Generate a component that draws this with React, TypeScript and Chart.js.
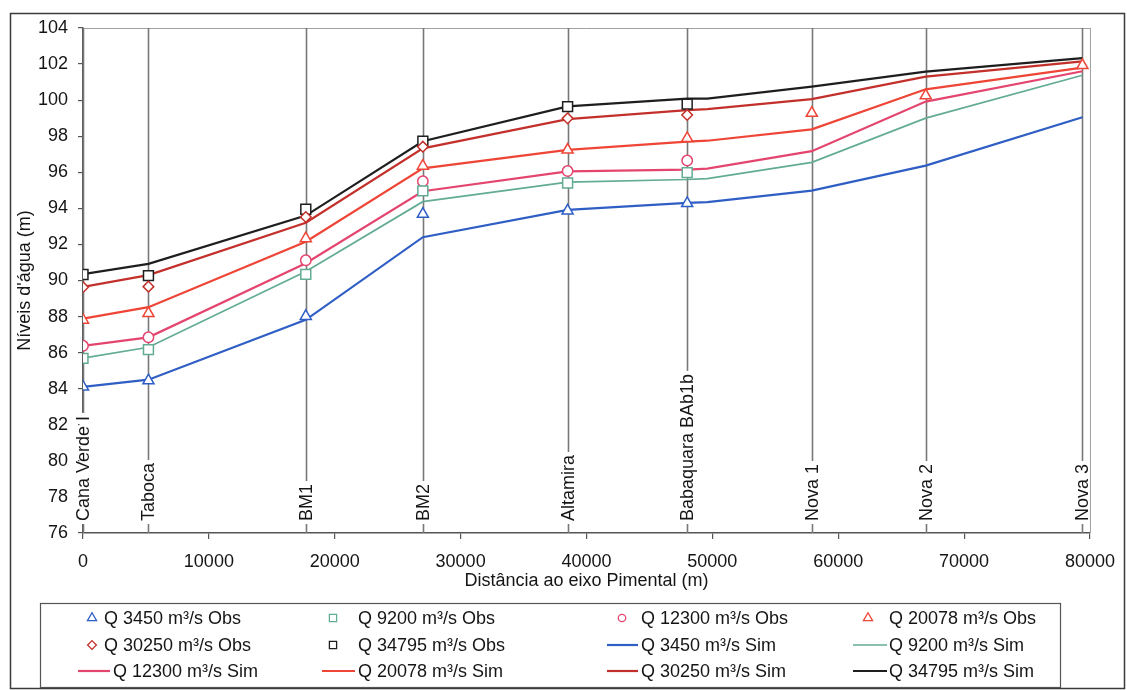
import React, { useEffect, useRef } from 'react';
import { Chart, registerables } from 'chart.js';

Chart.register(...registerables);

// Gauging stations along the river (distance from the Pimental axis, m)
const stationNames = ['Cana Verde I', 'Taboca', 'BM1', 'BM2', 'Altamira', 'Babaquara BAb1b', 'Nova 1', 'Nova 2', 'Nova 3'];
const stationDist = [0, 5200, 17700, 27000, 38500, 48000, 57900, 66950, 79400];

// Model cross-sections used for the simulated profiles
const simDist = [0, 5200, 17700, 27000, 38500, 48000, 49600, 57900, 66950, 79400];

const flows = ['3450', '9200', '12300', '20078', '30250', '34795'];

// Observed water levels (m), one value per station, in station order
const obs3450 = [84.1, 84.45, 88.02, 93.68, 93.87, 94.28];
const obs9200 = [85.68, 86.17, 90.34, 94.97, 95.41, 95.98];
const obs12300 = [86.38, 86.85, 91.12, 95.5, 96.07, 96.65];
const obs20078 = [87.81, 88.18, 92.33, 96.35, 97.24, 97.88, 99.28, 100.25, 101.93];
const obs30250 = [89.63, 89.66, 93.52, 97.42, 98.99, 99.18];
const obs34795 = [90.33, 90.27, 93.95, 97.72, 99.64, 99.78];

// Simulated water levels (m) at each model cross-section
const sim3450 = [84.1, 84.5, 87.82, 92.4, 93.92, 94.3, 94.35, 94.98, 96.37, 99.05];
const sim9200 = [85.7, 86.3, 90.5, 94.37, 95.45, 95.6, 95.65, 96.55, 99.0, 101.38];
const sim12300 = [86.37, 86.85, 90.96, 94.95, 96.05, 96.15, 96.2, 97.17, 99.92, 101.6];
const sim20078 = [87.88, 88.52, 92.15, 96.22, 97.24, 97.7, 97.75, 98.38, 100.6, 101.8];
const sim30250 = [89.65, 90.3, 93.2, 97.33, 98.95, 99.45, 99.5, 100.06, 101.3, 102.15];
const sim34795 = [90.35, 90.92, 93.6, 97.72, 99.65, 100.08, 100.08, 100.75, 101.58, 102.33];

const obsSeries = [obs3450, obs9200, obs12300, obs20078, obs30250, obs34795];
const simSeries = [sim3450, sim9200, sim12300, sim20078, sim30250, sim34795];

const seriesColors = ['#2f5ec4', '#62ab94', '#e4456f', '#ee4536', '#c3302b', '#1e1e1e'];
const obsStyles = ['triangle', 'rect', 'circle', 'triangle', 'rectRot', 'rect'];
const obsRadius = [6.4, 7, 5.2, 6.4, 5.3, 7];
const simWidths = [2.2, 1.7, 2.2, 2.2, 2.2, 2.2];

const FONT = '"Liberation Sans", Arial, Helvetica, sans-serif';
const TEXT = '#151515';

// Legend grid: four columns, three rows
const legendBox = { x: 40, y: 603, w: 1020, h: 84 };
const legendRowY = [618, 645, 671];
const legendCols = [
  { line0: 78, line1: 110, simText: 113, mark: 92, obsText: 104 },
  { line0: 322, line1: 355, simText: 358, mark: 333, obsText: 358 },
  { line0: 607, line1: 638, simText: 641, mark: 622, obsText: 641 },
  { line0: 853, line1: 887, simText: 889, mark: 868, obsText: 889 },
];

function drawMarker(ctx: CanvasRenderingContext2D, style: string, x: number, y: number, color: string) {
  ctx.save();
  ctx.strokeStyle = color;
  ctx.fillStyle = '#fff';
  ctx.lineWidth = 1.3;
  ctx.beginPath();
  if (style === 'triangle') {
    const r = 5.3;
    ctx.moveTo(x, y - r);
    ctx.lineTo(x + r * 0.866, y + r * 0.5);
    ctx.lineTo(x - r * 0.866, y + r * 0.5);
    ctx.closePath();
  } else if (style === 'rect') {
    ctx.rect(x - 3.6, y - 3.6, 7.2, 7.2);
  } else if (style === 'circle') {
    ctx.arc(x, y, 3.7, 0, Math.PI * 2);
  } else {
    const r = 4.4;
    ctx.moveTo(x, y - r);
    ctx.lineTo(x + r, y);
    ctx.lineTo(x, y + r);
    ctx.lineTo(x - r, y);
    ctx.closePath();
  }
  ctx.fill();
  ctx.stroke();
  ctx.restore();
}

const stationPlugin = {
  id: 'stations',
  beforeDatasetsDraw(chart: any) {
    const { ctx, chartArea, scales } = chart;
    const xs = scales.x;
    ctx.save();
    // upper and right edges of the plot area
    ctx.strokeStyle = '#a0a0a0';
    ctx.lineWidth = 1;
    ctx.beginPath();
    ctx.moveTo(chartArea.left, chartArea.top + 0.5);
    ctx.lineTo(chartArea.right, chartArea.top + 0.5);
    ctx.moveTo(chartArea.right + 0.5, chartArea.top);
    ctx.lineTo(chartArea.right + 0.5, chartArea.bottom);
    ctx.stroke();

    ctx.font = `18px ${FONT}`;
    stationDist.forEach((d, i) => {
      const px = Math.round(xs.getPixelForValue(d)) + 0.5;
      ctx.strokeStyle = '#787878';
      ctx.lineWidth = 1.6;
      ctx.beginPath();
      ctx.moveTo(px, chartArea.top);
      ctx.lineTo(px, chartArea.bottom);
      ctx.stroke();

      const label = stationNames[i];
      const w = ctx.measureText(label).width;
      ctx.save();
      ctx.translate(px, chartArea.bottom - 12);
      ctx.rotate(-Math.PI / 2);
      ctx.fillStyle = '#fff';
      ctx.fillRect(-3, -4, w + 6, 8);
      ctx.fillStyle = TEXT;
      ctx.textAlign = 'left';
      ctx.textBaseline = 'middle';
      ctx.fillText(label, 0, 1);
      ctx.restore();
    });
    ctx.restore();
  },
};

const legendPlugin = {
  id: 'gridLegend',
  afterDraw(chart: any) {
    const { ctx } = chart;
    ctx.save();
    // outer frame of the figure
    ctx.strokeStyle = '#3a3a3a';
    ctx.lineWidth = 1.5;
    ctx.strokeRect(10.5, 13.5, 1114, 675);

    ctx.strokeStyle = '#555';
    ctx.lineWidth = 1.2;
    ctx.strokeRect(legendBox.x + 0.5, legendBox.y + 0.5, legendBox.w, legendBox.h);

    ctx.font = `18px ${FONT}`;
    ctx.textBaseline = 'middle';
    ctx.textAlign = 'left';
    chart.data.datasets.forEach((ds: any, i: number) => {
      const row = Math.floor(i / 4);
      const c = legendCols[i % 4];
      const yy = legendRowY[row];
      let tx;
      if (ds.showLine) {
        ctx.strokeStyle = ds.borderColor;
        ctx.lineWidth = ds.borderWidth;
        ctx.beginPath();
        ctx.moveTo(c.line0, yy);
        ctx.lineTo(c.line1, yy);
        ctx.stroke();
        tx = c.simText;
      } else {
        drawMarker(ctx, ds.pointStyle, c.mark, yy, ds.borderColor);
        tx = c.obsText;
      }
      ctx.fillStyle = TEXT;
      ctx.fillText(ds.label, tx, yy + 1);
    });
    ctx.restore();
  },
};

export default function App() {
  const canvasRef = useRef<HTMLCanvasElement | null>(null);

  useEffect(() => {
    const canvas = canvasRef.current;
    if (!canvas) return;

    const obsSets = obsSeries.map((vals, k) => ({
      label: `Q ${flows[k]} m³/s Obs`,
      data: vals.map((v, i) => ({ x: stationDist[i], y: v })),
      showLine: false,
      pointStyle: obsStyles[k],
      pointRadius: obsRadius[k],
      pointBorderWidth: 1.5,
      borderColor: seriesColors[k],
      backgroundColor: '#ffffff',
    }));
    const simSets = simSeries.map((vals, k) => ({
      label: `Q ${flows[k]} m³/s Sim`,
      data: vals.map((v, i) => ({ x: simDist[i], y: v })),
      showLine: true,
      pointRadius: 0,
      borderWidth: simWidths[k],
      borderColor: seriesColors[k],
      backgroundColor: seriesColors[k],
      tension: 0,
    }));

    const tickFont = { family: FONT, size: 18 };

    const chart = new Chart(canvas, {
      type: 'scatter',
      data: { datasets: [...obsSets, ...simSets] as any },
      options: {
        animation: false,
        responsive: false,
        devicePixelRatio: 1,
        layout: { padding: { left: 0, right: 28, top: 28, bottom: 92 } },
        plugins: { legend: { display: false }, tooltip: { enabled: false } },
        scales: {
          x: {
            type: 'linear',
            min: 0,
            max: 80000,
            ticks: {
              stepSize: 10000,
              autoSkip: false,
              maxRotation: 0,
              padding: 12,
              color: TEXT,
              font: tickFont,
              callback: (v: any) => String(v),
            },
            grid: { display: true, drawOnChartArea: false, drawTicks: true, tickLength: 6, color: '#555', lineWidth: 1.2 },
            border: { display: true, color: '#555', width: 1.5 },
            title: {
              display: true,
              text: 'Distância ao eixo Pimental (m)',
              color: TEXT,
              font: { family: FONT, size: 18 },
              padding: { top: 0, bottom: 6 },
            },
            afterFit: (s: any) => { s.height = 65; },
          },
          y: {
            type: 'linear',
            min: 76,
            max: 104,
            ticks: { stepSize: 2, padding: 10, color: TEXT, font: tickFont },
            grid: { display: true, drawOnChartArea: false, drawTicks: true, tickLength: 5, color: '#555', lineWidth: 1.2 },
            border: { display: true, color: '#555', width: 1.5 },
            title: {
              display: true,
              text: "Níveis d'água (m)",
              color: TEXT,
              font: { family: FONT, size: 18 },
              padding: { top: 14, bottom: 0 },
            },
            afterFit: (s: any) => { s.width = 83; },
          },
        },
      },
      plugins: [stationPlugin, legendPlugin],
    });

    return () => chart.destroy();
  }, []);

  return (
    <div style={{ position: 'absolute', left: 0, top: 0, width: 1127, height: 690, background: '#ffffff' }}>
      <canvas ref={canvasRef} width={1127} height={690} style={{ width: 1127, height: 690, display: 'block' }} />
    </div>
  );
}
